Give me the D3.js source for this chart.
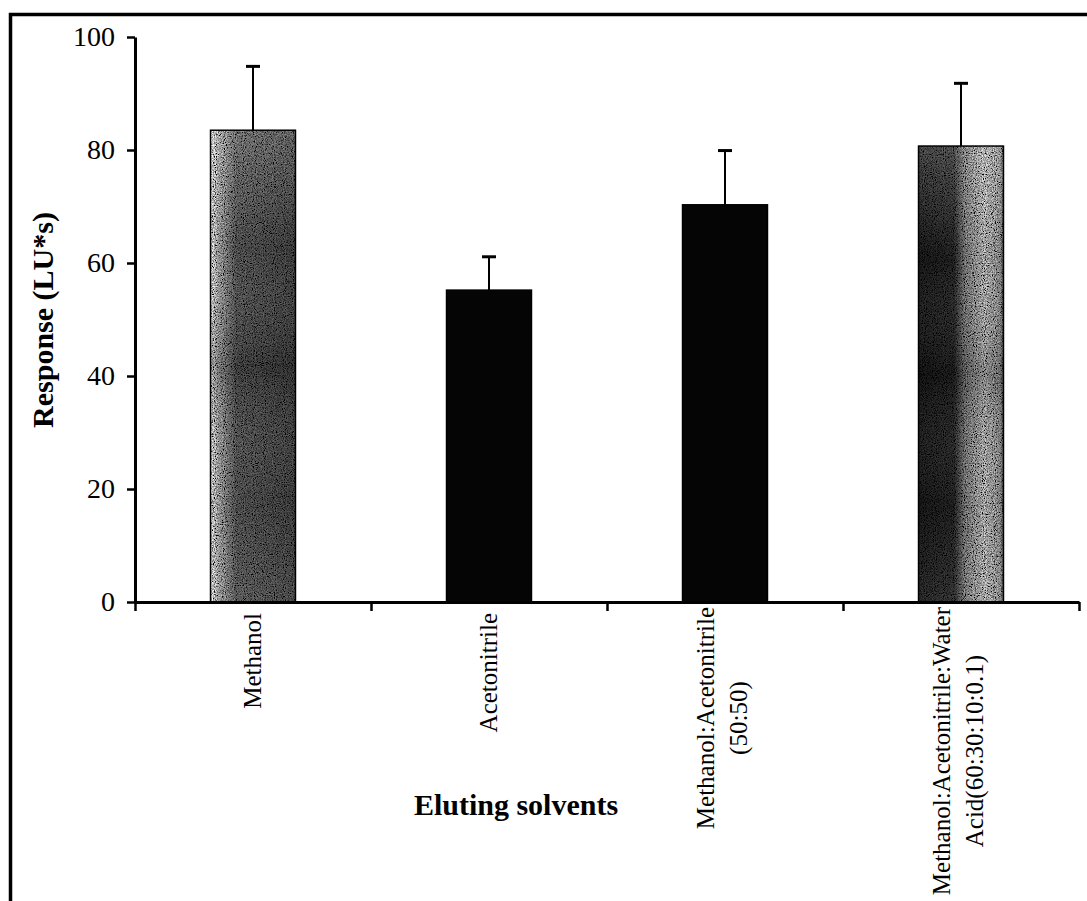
<!DOCTYPE html>
<html>
<head>
<meta charset="utf-8">
<script src="https://cdn.jsdelivr.net/npm/d3@7"></script>
<style>
  html, body { margin: 0; padding: 0; background: #fff; }
  svg { display: block; }
</style>
</head>
<body>
<svg id="chart" width="1087" height="901"></svg>
<script>
// Eluting solvents and their mean responses (LU*s) with standard deviations
const categories = [
  "Methanol",
  "Acetonitrile",
  "Methanol:Acetonitrile (50:50)",
  "Methanol:Acetonitrile:Water Acid(60:30:10:0.1)"
];
const labelLines = [
  ["Methanol"],
  ["Acetonitrile"],
  ["Methanol:Acetonitrile", "(50:50)"],
  ["Methanol:Acetonitrile:Water", "Acid(60:30:10:0.1)"]
];
const responses = [83.5, 55.2, 70.3, 80.7];
const errors = [11.3, 5.9, 9.6, 11.1];
const yTicks = [0, 20, 40, 60, 80, 100];
const barFills = ["url(#fillMethanol)", "#050505", "#050505", "url(#fillMix)"];
const grainy = [true, false, false, true];

const svg = d3.select("#chart");
const serif = "'Liberation Serif', 'Times New Roman', serif";

// Frame around the figure
svg.append("path")
  .attr("d", "M10.5,901 V14.5 H1087")
  .attr("fill", "none")
  .attr("stroke", "#000")
  .attr("stroke-width", 3.5);

// Gradients and grain for the textured bars
const defs = svg.append("defs");
function gradient(id, stops) {
  const g = defs.append("linearGradient").attr("id", id)
    .attr("x1", "0%").attr("x2", "100%").attr("y1", "0%").attr("y2", "0%");
  stops.forEach(([o, c]) => g.append("stop").attr("offset", o).attr("stop-color", c));
}
gradient("fillMethanol", [["0%", "#c4c4c4"], ["10%", "#8e8e8e"], ["30%", "#4a4a4a"], ["100%", "#383838"]]);
gradient("fillMix", [["0%", "#141414"], ["42%", "#1e1e1e"], ["55%", "#6a6a6a"], ["78%", "#9e9e9e"], ["96%", "#7e7e7e"], ["100%", "#444"]]);
const shade = defs.append("linearGradient").attr("id", "shadeV")
  .attr("x1", "0%").attr("x2", "0%").attr("y1", "0%").attr("y2", "100%");
[["0%", "#fff", 0.2], ["25%", "#fff", 0.0], ["50%", "#000", 0.18], ["78%", "#fff", 0.0], ["100%", "#fff", 0.08]]
  .forEach(([o, c, a]) => shade.append("stop").attr("offset", o).attr("stop-color", c).attr("stop-opacity", a));

const grain = defs.append("filter").attr("id", "grain")
  .attr("x", "0").attr("y", "0").attr("width", "100%").attr("height", "100%");
grain.append("feTurbulence").attr("type", "fractalNoise").attr("baseFrequency", "0.9")
  .attr("numOctaves", 2).attr("seed", 7).attr("result", "noise");
grain.append("feColorMatrix").attr("in", "noise").attr("type", "saturate").attr("values", 0).attr("result", "gray");
const ct = grain.append("feComponentTransfer").attr("in", "gray").attr("result", "contrast");
["feFuncR", "feFuncG", "feFuncB"].forEach(f =>
  ct.append(f).attr("type", "linear").attr("slope", 3).attr("intercept", -1));
ct.append("feFuncA").attr("type", "table").attr("tableValues", "1 1");
grain.append("feBlend").attr("in", "contrast").attr("in2", "SourceGraphic").attr("mode", "overlay").attr("result", "mixed");
grain.append("feComposite").attr("in", "mixed").attr("in2", "SourceGraphic").attr("operator", "in");

// Scales
const x = d3.scaleBand()
  .domain(categories)
  .range([135, 1079])
  .paddingInner(0.64)
  .paddingOuter(0.32);
const y = d3.scaleLinear().domain([0, 100]).range([602, 37]);
const xEdges = d3.scaleLinear().domain([0, categories.length]).range([135, 1079]);

// Bars
const bars = svg.append("g");
categories.forEach((c, i) => {
  const g = bars.append("g").attr("filter", grainy[i] ? "url(#grain)" : null);
  g.append("rect")
    .attr("x", x(c)).attr("y", y(responses[i]))
    .attr("width", x.bandwidth()).attr("height", y(0) - y(responses[i]))
    .attr("fill", barFills[i]);
  if (grainy[i]) {
    g.append("rect")
      .attr("x", x(c)).attr("y", y(responses[i]))
      .attr("width", x.bandwidth()).attr("height", y(0) - y(responses[i]))
      .attr("fill", "url(#shadeV)");
  }
  bars.append("rect")
    .attr("x", x(c)).attr("y", y(responses[i]))
    .attr("width", x.bandwidth()).attr("height", y(0) - y(responses[i]))
    .attr("fill", "none").attr("stroke", "#000").attr("stroke-width", 1.5);
});

// Error bars (upper half only)
const err = svg.append("g").attr("stroke", "#000");
categories.forEach((c, i) => {
  const cx = x(c) + x.bandwidth() / 2;
  err.append("line")
    .attr("x1", cx).attr("x2", cx)
    .attr("y1", y(responses[i])).attr("y2", y(responses[i] + errors[i]))
    .attr("stroke-width", 2);
  err.append("line")
    .attr("x1", cx - 7).attr("x2", cx + 7)
    .attr("y1", y(responses[i] + errors[i])).attr("y2", y(responses[i] + errors[i]))
    .attr("stroke-width", 3);
});

// Y axis
const yAxis = svg.append("g")
  .attr("transform", "translate(135,0)")
  .call(d3.axisLeft(y).tickValues(yTicks).tickSize(8).tickSizeOuter(0).tickPadding(12));
yAxis.select(".domain").attr("stroke-width", 3);
yAxis.selectAll(".tick line").attr("stroke-width", 2.5);
yAxis.selectAll(".tick text")
  .attr("font-family", serif).attr("font-size", 28).attr("fill", "#000");

// X axis with ticks between categories
const xAxis = svg.append("g")
  .attr("transform", "translate(0,602)")
  .call(d3.axisBottom(xEdges).ticks(categories.length).tickSize(9).tickSizeOuter(0).tickFormat(""));
xAxis.select(".domain").attr("stroke-width", 3);
xAxis.selectAll(".tick line").attr("stroke-width", 2.5);

// Category labels, rotated and hanging below the axis
const labels = svg.append("g")
  .attr("font-family", serif).attr("font-size", 25).attr("fill", "#000");
categories.forEach((c, i) => {
  const lines = labelLines[i];
  const n = lines.length;
  const center = x(c) + x.bandwidth() / 2;
  const texts = lines.map(t => labels.append("text").attr("text-anchor", "middle").text(t));
  const maxLen = d3.max(texts, t => t.node().getComputedTextLength());
  const top = n > 1 ? 607 : 613;
  texts.forEach((t, j) => {
    const bx = center + 8 + (j - (n - 1) / 2) * 33 - (n - 1) * 3;
    t.attr("transform", `translate(${bx},${top + maxLen / 2}) rotate(-90)`);
  });
});

// Axis titles
svg.append("text")
  .attr("transform", "translate(53,320) rotate(-90)")
  .attr("text-anchor", "middle")
  .attr("font-family", serif).attr("font-weight", "bold").attr("font-size", 30)
  .text("Response (LU*s)");
svg.append("text")
  .attr("x", 516).attr("y", 815)
  .attr("text-anchor", "middle")
  .attr("font-family", serif).attr("font-weight", "bold").attr("font-size", 30)
  .text("Eluting solvents");
</script>
</body>
</html>
